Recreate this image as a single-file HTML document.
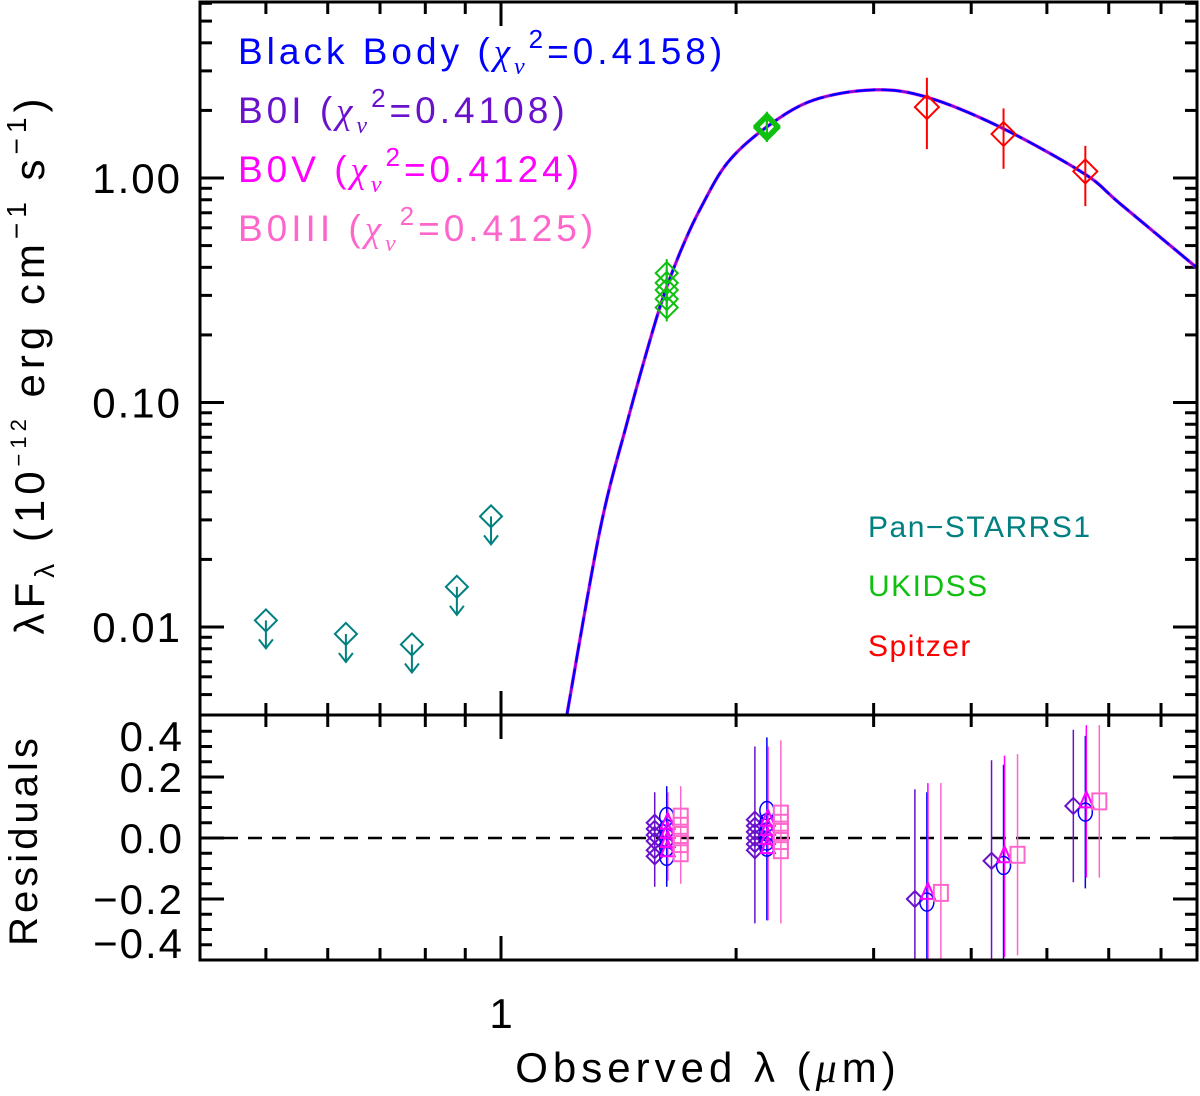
<!DOCTYPE html>
<html><head><meta charset="utf-8">
<style>
html,body{margin:0;padding:0;background:#fff;}
svg{display:block;font-family:"Liberation Sans",sans-serif;}
</style></head>
<body>
<svg id="chart" width="1200" height="1096" viewBox="0 0 1200 1096"></svg>
<script>
// ---- data ----
const curveLam = [1.215,1.339,1.450,1.565,1.63,1.71,1.80,1.95,2.19,2.51,3.0,3.51,4.35,5.57,6.20,7.79];
const curveFlux = [0.0041,0.0271,0.0812,0.210,0.327,0.50,0.73,1.17,1.69,2.22,2.47,2.29,1.69,1.05,0.77,0.397];
const psLam = [0.50,0.633,0.769,0.878,0.971];
const psFlux = [0.0107,0.00931,0.00836,0.0151,0.0311];
const ukLam = [1.63,1.63,1.63,1.63,1.63,2.19,2.19,2.19];
const ukFlux = [0.377,0.341,0.317,0.289,0.265,1.69,1.67,1.71];
const spLam = [3.51,4.40,5.60];
const spFlux = [2.07,1.57,1.07];
const spErr = [0.35,0.30,0.30];
const resLam = [1.63,2.19,3.51,4.40,5.60];
const resDiamond = [[0.05,0.03,0.01,-0.01,-0.04,-0.06],[0.06,0.04,0.02,0.0,-0.02,-0.04],[-0.2],[-0.075],[0.105]];
const resCircle = [[0.07,0.03,0.0,-0.03,-0.06],[0.09,0.05,0.02,-0.01,-0.03],[-0.21],[-0.09],[0.085]];
const resTri = [[0.05,0.02,-0.01,-0.04],[0.06,0.03,0.0,-0.03],[-0.18],[-0.06],[0.12]];
const resSquare = [[0.07,0.04,0.01,-0.02,-0.05],[0.08,0.05,0.02,-0.01,-0.04],[-0.18],[-0.055],[0.12]];
const resErr = [0.1,0.24,0.36,0.33,0.25];
const yTicksTop = [0.01,0.1,1];
const yTickLabelsTop = ["0.01","0.10","1.00"];
const yTicksRes = [-0.4,-0.2,0.0,0.2,0.4];
const yTickLabelsRes = ["\u22120.4","\u22120.2","0.0","0.2","0.4"];

// ---- axes ----
const L=200,R=1197,T=2,M=715,B=960;
const sx = v => 501 + Math.log10(v)*781;
const sy = v => 178 - Math.log10(v)*224.5;
const sr = v => 838 - v*305;
const C={bb:"#0000ff",b0i:"#6a11cc",b0v:"#ff00ff",b0iii:"#ff66cc",ps:"#008080",uk:"#10c010",sp:"#ff0000"};
const svg=document.getElementById('chart');
const NS="http://www.w3.org/2000/svg";
function mk(tag,attrs,parent){const e=document.createElementNS(NS,tag);for(const k in attrs)e.setAttribute(k,attrs[k]);(parent||svg).appendChild(e);return e;}
const defs=mk('defs',{});
const cp=mk('clipPath',{id:'clipTop'},defs);mk('rect',{x:L,y:T,width:R-L,height:M-T},cp);
const cp2=mk('clipPath',{id:'clipRes'},defs);mk('rect',{x:L,y:M,width:R-L,height:B-M},cp2);

const ticks=mk('g',{stroke:'#000','stroke-width':3});


const xt=[0.5,0.6,0.7,0.8,0.9,1,2,3,4,5,6,7];
xt.forEach(v=>{const x=sx(v),len=(v===1)?24:12;
 [[T,T+len],[M,M-len],[M,M+len],[B,B-len]].forEach(p=>mk('line',{x1:x,x2:x,y1:p[0],y2:p[1]},ticks));});
for(let d=-3;d<=0;d++)for(let k=1;k<=9;k++){const v=k*Math.pow(10,d);const y=sy(v);if(y<T+1||y>M-1)continue;const len=(k===1)?24:12;
 mk('line',{x1:L,x2:L+len,y1:y,y2:y},ticks);mk('line',{x1:R,x2:R-len,y1:y,y2:y},ticks);}
for(let i=-8;i<=8;i++){const v=i*0.05;const y=sr(v);if(y<=M+1||y>=B-1)continue;const len=(i%4===0)?24:12;
 mk('line',{x1:L,x2:L+len,y1:y,y2:y},ticks);mk('line',{x1:R,x2:R-len,y1:y,y2:y},ticks);}

yTicksTop.forEach((v,i)=>{const t=mk('text',{x:182,y:sy(v)+15,'font-size':42,'text-anchor':'end','letter-spacing':2});t.textContent=yTickLabelsTop[i];
 });
yTicksRes.forEach((v,i)=>{let y=sr(v)+15;if(v===0.4)y=751;if(v===-0.4)y=958;
 const t=mk('text',{x:184,y:y,'font-size':42,'text-anchor':'end','letter-spacing':2});t.textContent=yTickLabelsRes[i];
 });
const xl=mk('text',{x:sx(1),y:1028,'font-size':42,'text-anchor':'middle'});xl.textContent="1";


const zl=mk('line',{x1:L,x2:R,y1:sr(0),y2:sr(0),stroke:'#000','stroke-width':2.5,'stroke-dasharray':'14,10'});


// smooth curve (Catmull-Rom)
const gTop=mk('g',{'clip-path':'url(#clipTop)'});
const P=curveLam.map((l,i)=>[sx(l),sy(curveFlux[i])]);
let dpath='M'+P[0][0]+','+P[0][1];
for(let i=0;i<P.length-1;i++){const p0=P[Math.max(0,i-1)],p1=P[i],p2=P[i+1],p3=P[Math.min(P.length-1,i+2)];
 const c1=[p1[0]+(p2[0]-p0[0])/6,p1[1]+(p2[1]-p0[1])/6],c2=[p2[0]-(p3[0]-p1[0])/6,p2[1]-(p3[1]-p1[1])/6];
 dpath+=` C${c1[0]},${c1[1]} ${c2[0]},${c2[1]} ${p2[0]},${p2[1]}`;}
[[C.b0iii,3.5],[C.b0v,3],[C.b0i,2],[C.bb,2.5]].forEach((c,i)=>{const p=mk('path',{d:dpath,fill:'none',stroke:c[0],'stroke-width':c[1],'stroke-dasharray':i===3?'20,6':'none'},gTop);
 });

function diamond(x,y,r,col,w,parent){return mk('polygon',{points:`${x},${y-r} ${x+r},${y} ${x},${y+r} ${x-r},${y}`,fill:'none',stroke:col,'stroke-width':w},parent);}
psLam.forEach((l,i)=>{const x=sx(l),y=sy(psFlux[i]);const g=mk('g',{},gTop);
 
 diamond(x,y,11,C.ps,2,g);mk('line',{x1:x,x2:x,y1:y,y2:y+28,stroke:C.ps,'stroke-width':2},g);
 mk('polyline',{points:`${x-7},${y+19} ${x},${y+28} ${x+7},${y+19}`,fill:'none',stroke:C.ps,'stroke-width':2},g);});
ukLam.forEach((l,i)=>{const x=sx(l),y=sy(ukFlux[i]);const g=mk('g',{},gTop);
 
 mk('line',{x1:x,x2:x,y1:y-14,y2:y+14,stroke:C.uk,'stroke-width':2},g);diamond(x,y,11,C.uk,i>=5?4:2,g);});
spLam.forEach((l,i)=>{const x=sx(l),y=sy(spFlux[i]);const g=mk('g',{},gTop);
 
 mk('line',{x1:x,x2:x,y1:sy(spFlux[i]*(1+spErr[i])),y2:sy(spFlux[i]*(1-spErr[i])),stroke:C.sp,'stroke-width':2},g);diamond(x,y,12,C.sp,2,g);});

const gRes=mk('g',{'clip-path':'url(#clipRes)'});

resLam.forEach((l,i)=>{const xb=sx(l);const e=resErr[i];
 const xd=xb-12,xc=xb,xs=xb+14;
 [[xd,resDiamond[i],C.b0i],[xc,resCircle[i],C.bb],[xc+1,resTri[i],C.b0v],[xs,resSquare[i],C.b0iii]].forEach(s=>{
  const ln=mk('line',{x1:s[0],x2:s[0],y1:sr(Math.max(...s[1])+e),y2:sr(Math.min(...s[1])-e),stroke:s[2],'stroke-width':1.5},gRes);
  });
 resDiamond[i].forEach(v=>diamond(xd,sr(v),8,C.b0i,2,gRes));
 resCircle[i].forEach(v=>mk('ellipse',{cx:xc,cy:sr(v),rx:7,ry:9,fill:'none',stroke:C.bb,'stroke-width':1.5},gRes));
 resTri[i].forEach(v=>{const y=sr(v);mk('polygon',{points:`${xc+1},${y-10} ${xc+8},${y+6} ${xc-6},${y+6}`,fill:'none',stroke:C.b0v,'stroke-width':2},gRes);});
 resSquare[i].forEach(v=>{const y=sr(v);mk('rect',{x:xs-7,y:y-8,width:14,height:16,fill:'none',stroke:C.b0iii,'stroke-width':2},gRes);});
});

const fr=mk('g',{fill:'none',stroke:'#000','stroke-width':3});

mk('rect',{x:L,y:T,width:R-L,height:M-T},fr);mk('rect',{x:L,y:M,width:R-L,height:B-M},fr);
</script>
<svg width="1200" height="1096" style="position:absolute;left:0;top:0;font-family:'Liberation Sans',sans-serif">
 <g font-size="37" letter-spacing="4">
  <text x="238" y="64" fill="#0000ff">Black Body (<tspan font-family="Liberation Serif" font-style="italic">χ</tspan><tspan font-family="Liberation Serif" font-style="italic" font-size="24" dy="10">ν</tspan><tspan font-size="26" dy="-26">2</tspan><tspan dy="16">=0.4158)</tspan></text>
  <text x="238" y="123" fill="#6a11cc">B0I (<tspan font-family="Liberation Serif" font-style="italic">χ</tspan><tspan font-family="Liberation Serif" font-style="italic" font-size="24" dy="10">ν</tspan><tspan font-size="26" dy="-26">2</tspan><tspan dy="16">=0.4108)</tspan></text>
  <text x="238" y="182" fill="#ff00ff">B0V (<tspan font-family="Liberation Serif" font-style="italic">χ</tspan><tspan font-family="Liberation Serif" font-style="italic" font-size="24" dy="10">ν</tspan><tspan font-size="26" dy="-26">2</tspan><tspan dy="16">=0.4124)</tspan></text>
  <text x="238" y="241" fill="#ff66cc">B0III (<tspan font-family="Liberation Serif" font-style="italic">χ</tspan><tspan font-family="Liberation Serif" font-style="italic" font-size="24" dy="10">ν</tspan><tspan font-size="26" dy="-26">2</tspan><tspan dy="16">=0.4125)</tspan></text>
 </g>
 <g font-size="30" letter-spacing="1.5">
  <text x="868" y="537" fill="#008080">Pan−STARRS1</text>
  <text x="868" y="596" fill="#10c010">UKIDSS</text>
  <text x="868" y="656" fill="#ff0000">Spitzer</text>
 </g>
 <text transform="translate(44,364) rotate(-90)" text-anchor="middle" font-size="42" letter-spacing="5">λF<tspan font-size="28" dy="10">λ</tspan><tspan dy="-10"> (10</tspan><tspan font-size="22" dy="-18">−12</tspan><tspan dy="18"> erg cm</tspan><tspan font-size="28" dy="-18">−1</tspan><tspan dy="18"> s</tspan><tspan font-size="28" dy="-18">−1</tspan><tspan dy="18">)</tspan></text>
 <text transform="translate(37,840) rotate(-90)" text-anchor="middle" font-size="40" letter-spacing="4">Residuals</text>
 <text x="708" y="1082" text-anchor="middle" font-size="42" letter-spacing="5">Observed λ (<tspan font-family="Liberation Serif" font-style="italic">μ</tspan>m)</text>
</svg>
</body></html>
